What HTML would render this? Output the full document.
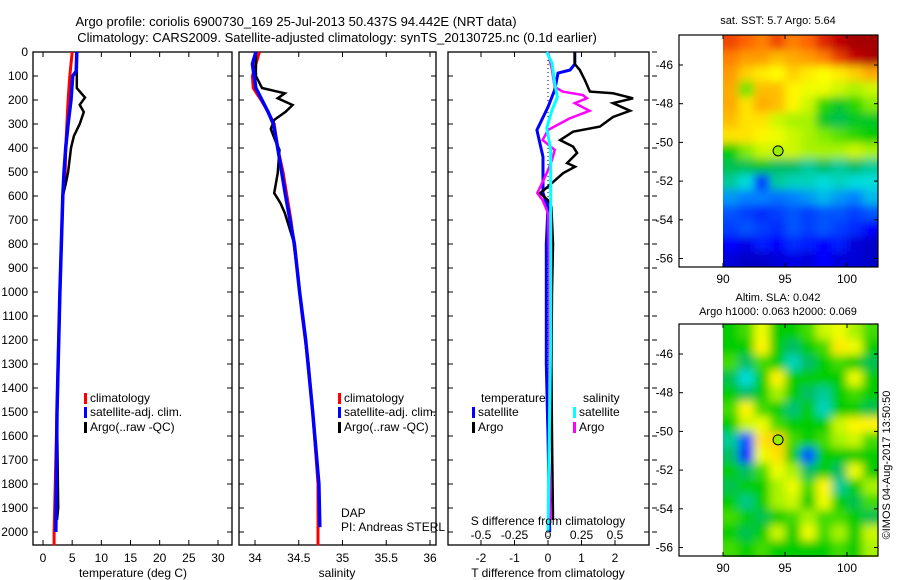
<!DOCTYPE html>
<html><head><meta charset="utf-8"><style>
body{margin:0;background:#fff}
svg{display:block;font-family:"Liberation Sans",sans-serif}
</style></head><body>
<svg id="fig" width="900" height="580" viewBox="0 0 900 580" xmlns="http://www.w3.org/2000/svg">
<defs>
<filter id="blur" x="-5%" y="-5%" width="110%" height="110%"><feGaussianBlur stdDeviation="4.5"/></filter>
<clipPath id="c1"><rect x="723" y="35" width="155" height="232"/></clipPath>
<clipPath id="c2"><rect x="723" y="324" width="155" height="233"/></clipPath>
</defs>
<text x="296" y="26" font-size="13" text-anchor="middle">Argo profile: coriolis 6900730_169 25-Jul-2013 50.437S 94.442E (NRT data)</text>
<text x="337" y="42" font-size="13" text-anchor="middle">Climatology: CARS2009. Satellite-adjusted climatology: synTS_20130725.nc (0.1d earlier)</text>
<g id="g"></g>
</svg>
<script>
// ---- depth-profile data (depth m) ----
const tClimDepth=[0,100,200,300,400,500,600,1000,1500,2000,2055];
const tClimVal=[5.0,4.6,4.3,4.1,3.9,3.8,3.4,2.9,2.4,1.9,1.9];
const tSatDepth=[0,80,100,200,300,400,500,600,1000,1500,2000];
const tSatVal=[5.8,5.7,5.1,4.8,4.3,3.9,3.6,3.4,2.9,2.4,2.2];
const tArgoDepth=[0,150,190,220,250,300,350,400,500,550,600,1000,1500,1900,1950];
const tArgoVal=[5.8,5.8,7.2,6.3,7.0,6.3,5.3,4.8,4.3,3.9,3.4,2.9,2.4,2.6,2.4];
const sClimDepth=[0,100,150,200,250,300,400,500,700,900,1100,1300,1500,1700,1800,2055];
const sClimVal=[34.05,33.97,33.98,34.07,34.15,34.22,34.26,34.32,34.41,34.48,34.54,34.61,34.66,34.70,34.72,34.72];
const sSatDepth=[0,50,150,200,250,300,400,600,800,1000,1200,1500,1800,1980];
const sSatVal=[34.01,33.97,34.01,34.08,34.15,34.21,34.26,34.35,34.45,34.51,34.58,34.66,34.73,34.74];
const sArgoDepth=[0,100,150,172,193,221,249,283,321,367,408,505,588,629,671,800,1000,1200,1500,1800,1950];
const sArgoVal=[34.01,34.01,34.08,34.34,34.26,34.43,34.35,34.22,34.18,34.23,34.28,34.26,34.22,34.29,34.34,34.45,34.51,34.58,34.66,34.73,34.74];
// ---- difference data ----
const dTSatDepth=[0,50,75,88,158,229,325,437,588,646,800,1000,1300,1600,2000];
const dTSatVal=[0.8,0.8,0.66,0.3,0.2,0,-0.33,-0.15,-0.15,0,-0.05,-0.05,-0.05,0,0.05];
const dTArgoDepth=[0,50,75,117,165,172,193,213,245,271,311,332,367,394,421,463,478,505,561,588,617,646,800,1000,1300,1600,1950];
const dTArgoVal=[0.8,0.8,0.95,1.1,1.25,1.94,2.54,1.94,2.45,1.94,1.55,0.75,0.36,0.75,0.87,0.57,0.81,0.45,0,-0.24,0,0.1,0.15,0.12,0.1,0.12,0.15];
const dSArgoDepth=[0,75,146,165,179,193,213,245,277,325,367,408,450,505,588,617,671,900,1300,1700,1950];
const dSArgoVal=[0,0.03,0.05,0.11,0.26,0.29,0.2,0.31,0.16,0,-0.04,0.05,0.03,-0.01,-0.08,-0.04,0,0.01,0.01,0.01,0.02];
const dSSatDepth=[0,46,129,188,242,317,408,800,1200,1600,2000];
const dSSatVal=[-0.01,0.03,0.05,0.07,0.03,-0.01,0.02,0.02,0.02,0.01,0];
// ---- map grids (normalised colour value 0..1), rows north->south ----
const sstGrid=[
[0.85,0.82,0.78,0.85,0.78,0.82,0.88,0.93,0.96,0.96],
[0.78,0.74,0.74,0.7,0.72,0.74,0.78,0.86,0.92,0.95],
[0.74,0.68,0.65,0.63,0.68,0.65,0.63,0.65,0.68,0.72],
[0.72,0.55,0.7,0.7,0.64,0.62,0.62,0.6,0.58,0.6],
[0.72,0.66,0.72,0.7,0.64,0.6,0.52,0.48,0.52,0.56],
[0.7,0.66,0.66,0.6,0.58,0.58,0.48,0.46,0.48,0.48],
[0.66,0.66,0.64,0.62,0.6,0.58,0.56,0.54,0.52,0.5],
[0.5,0.56,0.6,0.6,0.6,0.58,0.58,0.58,0.6,0.58],
[0.46,0.46,0.48,0.45,0.45,0.42,0.45,0.42,0.45,0.42],
[0.42,0.38,0.2,0.42,0.4,0.4,0.38,0.4,0.38,0.38],
[0.32,0.3,0.3,0.28,0.3,0.32,0.35,0.32,0.3,0.35],
[0.25,0.22,0.2,0.22,0.25,0.22,0.25,0.25,0.22,0.25],
[0.22,0.25,0.22,0.2,0.25,0.22,0.25,0.22,0.2,0.15],
[0.15,0.12,0.18,0.15,0.2,0.18,0.15,0.18,0.1,0.08],
[0.1,0.08,0.08,0.1,0.12,0.1,0.15,0.1,0.1,0.08]];
const slaGrid=[
[0.5,0.53,0.62,0.5,0.5,0.53,0.6,0.62,0.58,0.53],
[0.5,0.5,0.64,0.5,0.45,0.5,0.53,0.65,0.62,0.5],
[0.53,0.45,0.53,0.5,0.4,0.45,0.5,0.53,0.5,0.46],
[0.46,0.38,0.5,0.64,0.5,0.5,0.5,0.5,0.62,0.5],
[0.5,0.45,0.5,0.58,0.5,0.45,0.42,0.5,0.53,0.5],
[0.53,0.64,0.53,0.5,0.44,0.5,0.4,0.5,0.5,0.46],
[0.5,0.6,0.62,0.53,0.5,0.5,0.5,0.6,0.64,0.64],
[0.42,0.25,0.66,0.68,0.53,0.5,0.53,0.58,0.6,0.53],
[0.45,0.2,0.62,0.66,0.5,0.25,0.5,0.5,0.5,0.5],
[0.5,0.45,0.53,0.62,0.58,0.45,0.5,0.45,0.62,0.5],
[0.46,0.5,0.5,0.58,0.62,0.53,0.64,0.42,0.5,0.58],
[0.5,0.43,0.5,0.58,0.6,0.5,0.62,0.5,0.46,0.53],
[0.53,0.5,0.46,0.5,0.53,0.58,0.53,0.53,0.5,0.46],
[0.5,0.46,0.5,0.6,0.5,0.62,0.53,0.58,0.5,0.6],
[0.53,0.5,0.53,0.5,0.5,0.5,0.5,0.53,0.5,0.58]];
const argoLon=94.442, argoLat=-50.437;
const depthTicks=[0,100,200,300,400,500,600,700,800,900,1000,1100,1200,1300,1400,1500,1600,1700,1800,1900,2000];
const tempTicks=[0,5,10,15,20,25,30];
const salTicks=[34,34.5,35,35.5,36];
const salTickLabels=["34","34.5","35","35.5","36"];
const dTTicks=[-2,-1,0,1,2];
const dSTicks=[-0.5,-0.25,0,0.25,0.5];
const dSTickLabels=["-0.5","-0.25","0","0.25","0.5"];
const lonTicks=[90,95,100];
const latTicks=[-46,-48,-50,-52,-54,-56];

const NS="http://www.w3.org/2000/svg";
const G=document.getElementById('g');
function mk(tag,attrs,parent){const e=document.createElementNS(NS,tag);for(const k in attrs)e.setAttribute(k,attrs[k]);(parent||G).appendChild(e);return e;}
function txt(x,y,s,anchor,size,parent){const e=mk('text',{x:x,y:y,'font-size':size||12,'text-anchor':anchor||'start'},parent);e.textContent=s;return e;}

const TOP=52,BOT=545;
const yD=d=>TOP+d*0.24;
const xT=v=>43+v*5.833;
const xS=v=>255+(v-34)*87.5;
const xdT=v=>548+v*33.5;
const xdS=v=>548+v*134;

function frame(x0,x1,name){
  const r=mk('rect',{x:x0,y:TOP,width:x1-x0,height:BOT-TOP,fill:'none',stroke:'#000','stroke-width':1.3});
  
  
  depthTicks.forEach(d=>{const y=yD(d);mk('line',{x1:x0,x2:x0+5,y1:y,y2:y,stroke:'#000'});mk('line',{x1:x1,x2:x1-5,y1:y,y2:y,stroke:'#000'});});
}
function xticks(vals,fx,labels){
  vals.forEach((v,i)=>{const x=fx(v);mk('line',{x1:x,x2:x,y1:TOP,y2:TOP+5,stroke:'#000'});mk('line',{x1:x,x2:x,y1:BOT,y2:BOT-5,stroke:'#000'});
    const t=txt(x,562,labels?labels[i]:String(v),'middle',12);});
}
function line(depths,vals,fx,color,w,name){
  let d='';depths.forEach((dp,i)=>{d+=(i?'L':'M')+fx(vals[i]).toFixed(1)+','+yD(dp).toFixed(1);});
  const p=mk('path',{d:d,fill:'none',stroke:color,'stroke-width':w,'stroke-linejoin':'miter'});
  
  
}
function legendEntry(x,y,color,label){
  const r=mk('rect',{x:x,y:y-9,width:3,height:11,fill:color});
  
  
  const t=txt(x+6,y,label,'start',12);
  
  
}

// Panel 1 temperature
frame(33,232,'temperature-panel');
depthTicks.forEach(d=>{const t=txt(28,yD(d)+4,String(d),'end',12);});
xticks(tempTicks,xT,null);
line(tClimDepth,tClimVal,xT,'#f00',3,'temp-climatology-line');
line(tArgoDepth,tArgoVal,xT,'#000',2.5,'temp-argo-line');
line(tSatDepth,tSatVal,xT,'#00f',3.5,'temp-satellite-line');
let t=txt(133,577,'temperature (deg C)','middle',12);
legendEntry(84,402,'#f00','climatology');legendEntry(84,416,'#00f','satellite-adj. clim.');legendEntry(84,431,'#000','Argo(..raw -QC)');

// Panel 2 salinity
frame(239,436,'salinity-panel');
xticks(salTicks,xS,salTickLabels);
line(sClimDepth,sClimVal,xS,'#f00',3,'sal-climatology-line');
line(sArgoDepth,sArgoVal,xS,'#000',2.5,'sal-argo-line');
line(sSatDepth,sSatVal,xS,'#00f',3.5,'sal-satellite-line');
t=txt(337,577,'salinity','middle',12);
legendEntry(338,402,'#f00','climatology');legendEntry(338,416,'#00f','satellite-adj. clim.');legendEntry(338,431,'#000','Argo(..raw -QC)');
t=txt(341,517,'DAP','start',12);
t=txt(341,531,'PI: Andreas STERL','start',12);

// Panel 3 differences
frame(448,649,'difference-panel');
depthTicks.forEach(d=>{const y=yD(d);mk('line',{x1:652,x2:657,y1:y,y2:y,stroke:'#000'});});
xticks(dTTicks,xdT,null);
mk('line',{x1:548,x2:548,y1:TOP,y2:BOT,stroke:'#000','stroke-dasharray':'1,3'});
line(dTSatDepth,dTSatVal,xdT,'#00f',3,'dT-satellite-line');
line(dTArgoDepth,dTArgoVal,xdT,'#000',2.5,'dT-argo-line');
line(dSArgoDepth,dSArgoVal,xdS,'#f0f',2.5,'dS-argo-line');
line(dSSatDepth,dSSatVal,xdS,'#0ff',3,'dS-satellite-line');
dSTicks.forEach((v,i)=>{const tt=txt(xdS(v),539,dSTickLabels[i],'middle',12);});
t=txt(548,525,'S difference from climatology','middle',12);
t=txt(548,577,'T difference from climatology','middle',12);
t=txt(481,402,'temperature','start',12);
t=txt(583,402,'salinity','start',12);
legendEntry(472,416,'#00f','satellite');legendEntry(472,431,'#000','Argo');
legendEntry(573,416,'#0ff','satellite');legendEntry(573,431,'#f0f','Argo');

// Maps
const cmapStops=[[0,[0,0,140]],[0.15,[0,0,255]],[0.3,[0,128,255]],[0.38,[0,220,220]],[0.45,[0,190,100]],[0.5,[0,205,0]],[0.57,[150,240,0]],[0.63,[255,255,0]],[0.72,[255,170,0]],[0.82,[255,100,0]],[0.92,[200,0,0]],[1,[128,0,0]]];
function cmap(v){v=Math.max(0,Math.min(1,v));
  for(let i=1;i<cmapStops.length;i++){const a=cmapStops[i-1],b=cmapStops[i];if(v<=b[0]){const f=(v-a[0])/(b[0]-a[0]);
    return 'rgb('+a[1].map((c,k)=>Math.round(c+(b[1][k]-c)*f)).join(',')+')';}}
  return 'rgb(128,0,0)';}
function drawMap(y0,grid,clip,name){
  const x0=679,x1=878,y1=y0+232;
  const lonX=l=>723+(l-90)*12.4;
  const latY=l=>y0+30+(-46-l)*19.35;
  const grp=mk('g',{'clip-path':'url(#'+clip+')'});
  
  
  const inner=mk('g',{filter:'url(#blur)'},grp);
  const rows=grid.length,cols=grid[0].length,cw=155/cols,ch=232/rows;
  grid.forEach((row,r)=>row.forEach((v,c)=>{
    const cell=mk('rect',{x:723+c*cw-(c==0?12:0),y:y0+r*ch-(r==0?12:0),width:cw+1+(c==0?12:0)+(c==cols-1?12:0),height:ch+1+(r==0?12:0)+(r==rows-1?12:0),fill:cmap(v)},inner);
    
    
  }));
  mk('rect',{x:x0,y:y0,width:x1-x0,height:y1-y0,fill:'none',stroke:'#000','stroke-width':1.2});
  lonTicks.forEach(l=>{const x=lonX(l);mk('line',{x1:x,x2:x,y1:y0,y2:y0+4,stroke:'#000'});mk('line',{x1:x,x2:x,y1:y1,y2:y1-4,stroke:'#000'});
    const tt=txt(x,y1+16,String(l),'middle',12);});
  latTicks.forEach(l=>{const y=latY(l);mk('line',{x1:x0,x2:x0+4,y1:y,y2:y,stroke:'#000'});mk('line',{x1:x1,x2:x1-4,y1:y,y2:y,stroke:'#000'});
    const tt=txt(673,y+4,String(l),'end',12);});
  const c=mk('circle',{cx:lonX(argoLon),cy:latY(argoLat),r:5,fill:'#9e0',stroke:'#000','stroke-width':1});
  
  
}
t=txt(778,24,'sat. SST: 5.7 Argo: 5.64','middle',11);
drawMap(35,sstGrid,'c1','sst-map');
t=txt(778,301,'Altim. SLA: 0.042','middle',11);
t=txt(778,315,'Argo h1000: 0.063 h2000: 0.069','middle',11);
drawMap(324,slaGrid,'c2','sla-map');
t=mk('text',{x:0,y:0,'font-size':11,'text-anchor':'middle',transform:'translate(890,465) rotate(-90)'});t.textContent='©IMOS 04-Aug-2017 13:50:50';


</script>
</body></html>
